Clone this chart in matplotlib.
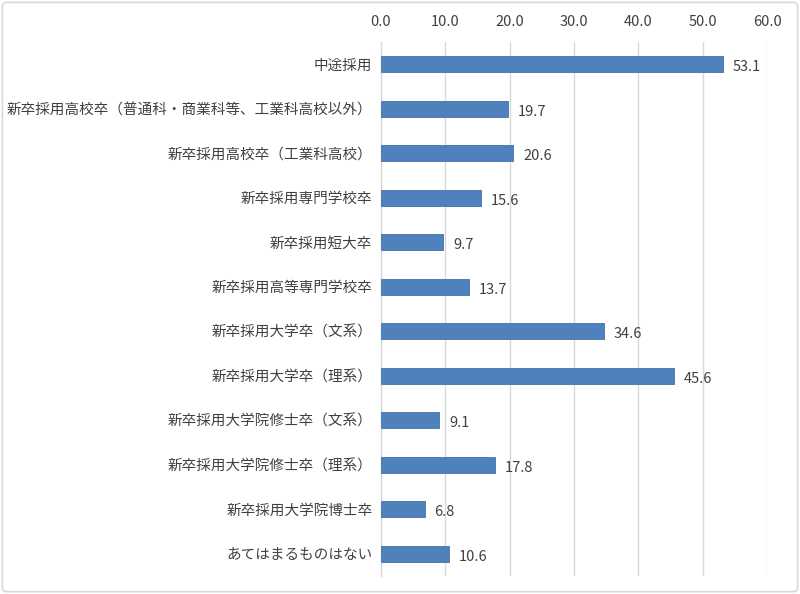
import matplotlib.pyplot as plt
from matplotlib.patches import FancyBboxPatch

plt.rcParams['font.family'] = ['Noto Sans CJK JP', 'DejaVu Sans']

categories = [
    "中途採用",
    "新卒採用高校卒（普通科・商業科等、工業科高校以外）",
    "新卒採用高校卒（工業科高校）",
    "新卒採用専門学校卒",
    "新卒採用短大卒",
    "新卒採用高等専門学校卒",
    "新卒採用大学卒（文系）",
    "新卒採用大学卒（理系）",
    "新卒採用大学院修士卒（文系）",
    "新卒採用大学院修士卒（理系）",
    "新卒採用大学院博士卒",
    "あてはまるものはない",
]
values = [53.1, 19.7, 20.6, 15.6, 9.7, 13.7, 34.6, 45.6, 9.1, 17.8, 6.8, 10.6]
xticks = [0, 10, 20, 30, 40, 50, 60]

text_color = "#404040"
grid_color = "#d9d9d9"
fs = 10.5

fig = plt.figure(figsize=(8, 5.94), dpi=100)
ax = fig.add_axes([0.476, 0.0303, 0.483, 0.899])

pos = list(range(len(categories)))
ax.barh(pos, values, height=0.36, color="#4f81bd", edgecolor="#4472a8",
        linewidth=0.6, zorder=3)

for p, v in zip(pos, values):
    ax.text(v + 1.5, p + 0.07, f"{v:.1f}", va="center", ha="left",
            fontsize=fs, color=text_color)

ax.set_xlim(0, 60)
ax.set_ylim(len(categories) - 0.5, -0.5)
ax.set_xticks(xticks)
ax.set_xticklabels([f"{t:.1f}" for t in xticks], fontsize=fs, color=text_color)
ax.xaxis.tick_top()
ax.tick_params(axis="x", length=0, pad=9)
ax.set_yticks(pos)
ax.set_yticklabels(categories, fontsize=fs, color=text_color)
ax.tick_params(axis="y", length=0, pad=6)

ax.grid(axis="x", color=grid_color, linewidth=1, zorder=0)
for s in ["top", "right", "bottom"]:
    ax.spines[s].set_visible(False)
ax.spines["left"].set_color(grid_color)
ax.spines["left"].set_linewidth(1)

border = FancyBboxPatch((0.003, 0.004), 0.994, 0.992,
                        boxstyle="round,pad=0,rounding_size=0.006",
                        transform=fig.transFigure, fill=False,
                        edgecolor="#d9d9d9", linewidth=1.2)
fig.patches.append(border)

fig.savefig("out.png", dpi=100)
